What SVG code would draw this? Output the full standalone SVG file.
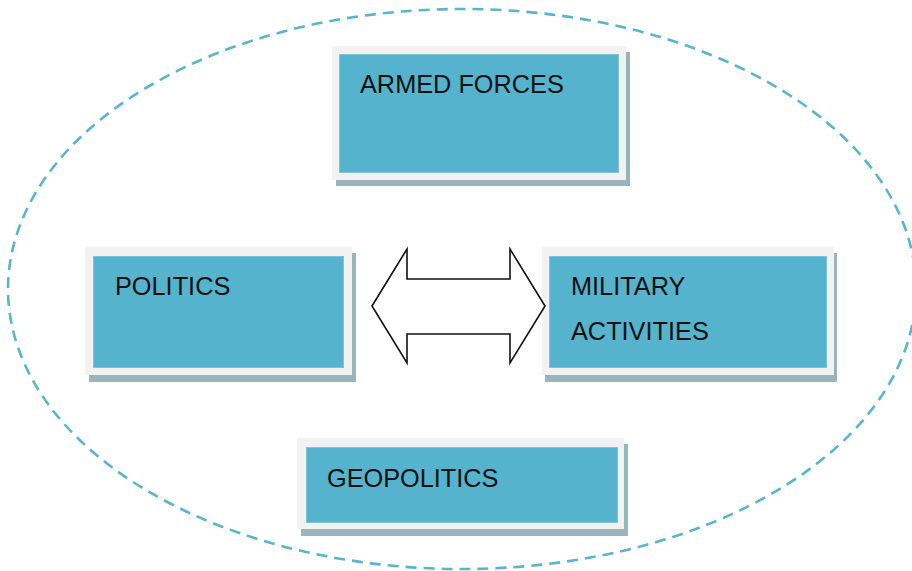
<svg xmlns="http://www.w3.org/2000/svg" width="912" height="571" viewBox="0 0 912 571">
  <style>
    .shadow { fill: #9BB3BB; }
    .frame { fill: #F2F2F2; }
    .box { fill: #56B3CD; stroke: #7CC4D8; stroke-width: 1; }
    .label { font-family: "Liberation Sans", Arial, sans-serif; font-size: 25.3px; fill: #111111; }
    .boundary { fill: none; stroke: #5AB5CC; stroke-width: 2.6; stroke-dasharray: 11 7; }
  </style>
  <rect width="912" height="571" fill="#FFFFFF"/>

  <!-- dashed boundary -->
  <ellipse class="boundary" cx="462" cy="289" rx="454" ry="280"/>

  <g id="armed-forces">
    <rect class="shadow" x="336" y="52" width="294" height="134"/>
    <rect class="frame" x="332" y="46" width="294" height="134"/>
    <rect class="box" x="339.5" y="54.5" width="279" height="118"/>
    <text class="label" x="360" y="93">ARMED FORCES</text>
  </g>

  <g id="politics">
    <rect class="shadow" x="89" y="253" width="267" height="129"/>
    <rect class="frame" x="85" y="247" width="267" height="128"/>
    <rect class="box" x="93.5" y="256.5" width="250" height="111"/>
    <text class="label" x="115" y="295">POLITICS</text>
  </g>

  <g id="military-activities">
    <rect class="shadow" x="545" y="253" width="292" height="129"/>
    <rect class="frame" x="542" y="247" width="292" height="128"/>
    <rect class="box" x="549.5" y="256.5" width="277" height="111"/>
    <text class="label" x="571" y="295">MILITARY</text>
    <text class="label" x="571" y="340">ACTIVITIES</text>
  </g>

  <g id="geopolitics">
    <rect class="shadow" x="301" y="444" width="327" height="92"/>
    <rect class="frame" x="297" y="438" width="327" height="91"/>
    <rect class="box" x="306.5" y="447.5" width="311" height="75"/>
    <text class="label" x="327" y="487">GEOPOLITICS</text>
  </g>

  <g id="connectors">
    <path d="M372 306 L407 249 L407 279 L510 279 L510 249 L545 306 L510 363 L510 334 L407 334 L407 363 Z"
          fill="#FFFFFF" stroke="#111111" stroke-width="1.6" stroke-linejoin="miter"/>
  </g>
</svg>
